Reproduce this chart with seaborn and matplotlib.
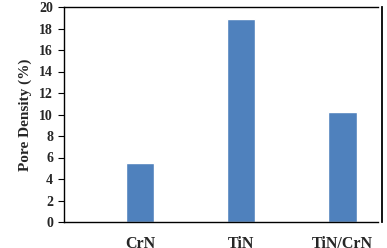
import matplotlib
matplotlib.use("Agg")
import matplotlib.pyplot as plt
import seaborn as sns
import pandas as pd

categories = ["CrN", "TiN", "TiN/CrN"]
values = [5.5, 18.9, 10.2]
yticks = [0, 2, 4, 6, 8, 10, 12, 14, 16, 18, 20]

sns.set_style("white")
plt.rcParams['font.family'] = ['Liberation Serif', 'DejaVu Serif']
plt.rcParams['font.weight'] = 'bold'
plt.rcParams['axes.labelweight'] = 'bold'

df = pd.DataFrame({"cat": categories, "val": values})

fig = plt.figure(figsize=(3.87, 2.48), dpi=100)
ax = fig.add_axes([64/387, 26/248, (378-64)/387, (222-7)/248])
sns.barplot(data=df, x="cat", y="val", color="#4F81BD", width=0.28,
            saturation=1, ax=ax)
ax.set_xlim(-0.75, 2.35)
ax.set_ylim(0, 20)
ax.set_yticks(yticks)
ax.set_yticklabels([str(t) for t in yticks])
ax.set_xticks(range(len(categories)))
ax.set_xticklabels(categories)
ax.tick_params(axis="x", length=0, pad=10, labelsize=11.5)
ax.tick_params(axis="y", length=4.3, width=0.8, color="black", pad=3.5,
               direction="out", left=True, labelsize=10)
ax.set_xlabel("")
ax.set_ylabel("Pore Density (%)", fontweight="bold", fontsize=11, labelpad=5)
for s in ["left", "bottom", "top"]:
    ax.spines[s].set_visible(True)
    ax.spines[s].set_color("black")
    ax.spines[s].set_linewidth(1.0)
ax.spines["right"].set_visible(True)
ax.spines["right"].set_color("black")
ax.spines["right"].set_linewidth(1.3)
ax.spines["right"].set_position(("outward", 3))
fig.savefig("out.png", dpi=100)
